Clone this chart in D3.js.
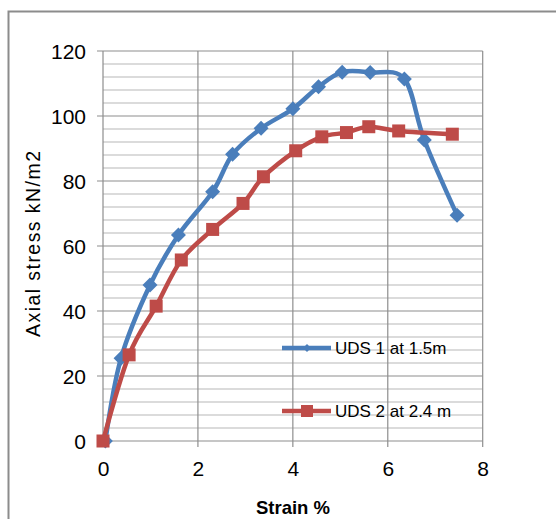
<!DOCTYPE html>
<html><head><meta charset="utf-8">
<script src="https://cdn.jsdelivr.net/npm/d3@7"></script>
<style>body{margin:0;background:#fff}svg{display:block}text{font-family:"Liberation Sans",Arial,sans-serif;fill:#000}</style>
</head><body><svg id="c" width="556" height="519"></svg>
<script>
const strain1 = [0.05, 0.38, 0.99, 1.59, 2.31, 2.73, 3.33, 4.0, 4.54, 5.04, 5.63, 6.35, 6.77, 7.46];
const stress1 = [0, 25.5, 48, 63.4, 76.7, 88.2, 96.2, 102.2, 109, 113.5, 113.4, 111.4, 92.6, 69.5];
const strain2 = [0, 0.55, 1.12, 1.65, 2.31, 2.95, 3.38, 4.06, 4.61, 5.13, 5.6, 6.23, 7.36];
const stress2 = [0, 26.5, 41.5, 55.7, 65.1, 73.1, 81.3, 89.3, 93.6, 94.9, 96.7, 95.4, 94.4];
const seriesNames = ["UDS 1 at 1.5m", "UDS 2 at 2.4 m"];
const xTicks = [0, 2, 4, 6, 8];
const yTicks = [0, 20, 40, 60, 80, 100, 120];
const yMinor = d3.range(0, 121, 4);
const xTitle = "Strain %";
const yTitle = "Axial stress kN/m2";

const svg = d3.select("#c");
const x = d3.scaleLinear().domain([0, 8]).range([103, 482.7]);
const y = d3.scaleLinear().domain([0, 120]).range([441, 51]);

svg.append("path").attr("d", "M8.5,519 V11.5 H556").attr("fill", "none").attr("stroke", "#8c8c8c").attr("stroke-width", 2);

const g = svg.append("g");
g.selectAll("line.minor").data(yMinor.filter(v => v % 20 !== 0)).join("line")
  .attr("x1", x(0)).attr("x2", x(8)).attr("y1", d => y(d)).attr("y2", d => y(d))
  .attr("stroke", "#cfcfcf").attr("stroke-width", 1.6);
g.selectAll("line.hmaj").data(yTicks).join("line")
  .attr("x1", x(0) - 6).attr("x2", x(8)).attr("y1", d => y(d)).attr("y2", d => y(d))
  .attr("stroke", "#8e8e8e").attr("stroke-width", 1.2);
g.selectAll("line.vmaj").data(xTicks).join("line")
  .attr("x1", d => x(d)).attr("x2", d => x(d)).attr("y1", y(120)).attr("y2", y(0) + 6)
  .attr("stroke", "#8e8e8e").attr("stroke-width", 1.2);

const yAxis = svg.append("g").attr("transform", `translate(${x(0) - 17},0)`)
  .call(d3.axisLeft(y).tickValues(yTicks).tickSize(0).tickPadding(0));
yAxis.select(".domain").remove();
yAxis.selectAll("text").attr("font-size", 21).attr("font-family", "Liberation Sans, Arial").attr("fill", "#000").attr("dy", "0.36em");

const xAxis = svg.append("g").attr("transform", `translate(0,${y(0) + 20})`)
  .call(d3.axisBottom(x).tickValues(xTicks).tickSize(0).tickPadding(0).tickFormat(d3.format("d")));
xAxis.select(".domain").remove();
xAxis.selectAll("text").attr("font-size", 21).attr("font-family", "Liberation Sans, Arial").attr("fill", "#000").attr("dy", "0.72em");

svg.append("text").attr("x", 293).attr("y", 514).attr("text-anchor", "middle")
  .attr("font-size", 18.5).attr("font-weight", "bold").text(xTitle);
svg.append("text").attr("transform", "translate(40,244) rotate(-90)").attr("text-anchor", "middle")
  .attr("font-size", 19.5).attr("textLength", 186).attr("lengthAdjust", "spacing").text(yTitle);

const line = d3.line().x(d => x(d[0])).y(d => y(d[1])).curve(d3.curveCatmullRom.alpha(0));
const blue = "#4a7ebb", red = "#be4b48";
const d1 = strain1.map((v, i) => [v, stress1[i]]);
const d2 = strain2.map((v, i) => [v, stress2[i]]);
const diamond = s => `M0,${-s}L${s},0L0,${s}L${-s},0Z`;

svg.append("path").datum(d1).attr("d", line).attr("fill", "none").attr("stroke", blue).attr("stroke-width", 4.5).attr("stroke-linejoin", "round");
svg.selectAll("path.dm").data(d1).join("path").attr("class", "dm")
  .attr("transform", d => `translate(${x(d[0])},${y(d[1])})`).attr("d", diamond(7.5)).attr("fill", blue);

svg.append("path").datum(d2).attr("d", line).attr("fill", "none").attr("stroke", red).attr("stroke-width", 4.5).attr("stroke-linejoin", "round");
svg.selectAll("rect.sq").data(d2).join("rect").attr("class", "sq")
  .attr("x", d => x(d[0]) - 6.5).attr("y", d => y(d[1]) - 6.5).attr("width", 13).attr("height", 13).attr("fill", red);

const leg = [{c: blue, y: 348, n: seriesNames[0], m: "d"}, {c: red, y: 411, n: seriesNames[1], m: "s"}];
leg.forEach(l => {
  svg.append("line").attr("x1", 282).attr("x2", 331).attr("y1", l.y).attr("y2", l.y).attr("stroke", l.c).attr("stroke-width", 4.5);
  if (l.m === "d") svg.append("path").attr("transform", `translate(307,${l.y})`).attr("d", diamond(4)).attr("fill", l.c);
  else svg.append("rect").attr("x", 301).attr("y", l.y - 6).attr("width", 12).attr("height", 12).attr("fill", l.c);
  svg.append("text").attr("x", 335).attr("y", l.y).attr("dy", "0.36em").attr("font-size", 17).text(l.n);
});
</script></body></html>
